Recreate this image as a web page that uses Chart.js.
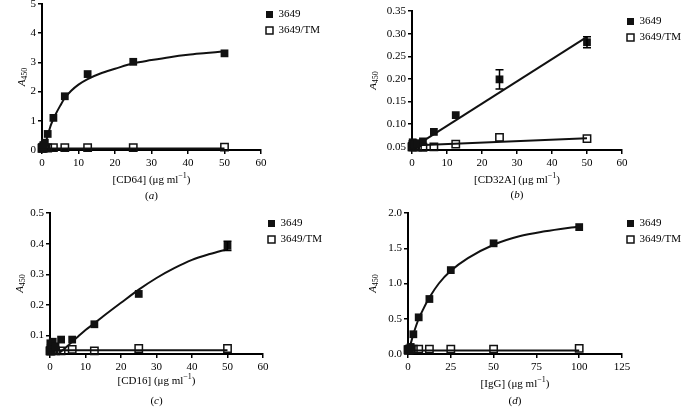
<!DOCTYPE html>
<html>
<head>
<meta charset="utf-8">
<script src="https://cdn.jsdelivr.net/npm/chart.js@4.4.1/dist/chart.umd.min.js"></script>
<style>
  html, body { margin: 0; padding: 0; background: #fff; width: 693px; height: 407px; overflow: hidden; }
  body { position: relative; }
  canvas { position: absolute; }
</style>
</head>
<body>
<canvas id="chartA"></canvas>
<canvas id="chartB"></canvas>
<canvas id="chartC"></canvas>
<canvas id="chartD"></canvas>
<script>
// ---- data ----
const seriesNames = ["3649", "3649/TM"];

// concentration series used in panels a-c (µg/ml)
const conc = [0, 0.1, 0.2, 0.39, 0.78, 1.56, 3.125, 6.25, 12.5, 25, 50];
// panel d (IgG)
const concIgG = [0, 0.39, 0.78, 1.56, 3.125, 6.25, 12.5, 25, 50, 100];

// (a) CD64
const cd64_wt = [0.06, 0.08, 0.12, 0.17, 0.25, 0.55, 1.1, 1.84, 2.6, 3.02, 3.31];
const cd64_tm = [0.06, 0.07, 0.08, 0.07, 0.08, 0.07, 0.08, 0.08, 0.08, 0.08, 0.1];
const cd64FitX = [1.0, 1.7, 2.5, 3.6, 5, 6.25, 8, 10, 12.5, 16, 20, 25, 30, 35, 40, 45, 50];
const cd64FitWt = [0.25, 0.56, 0.88, 1.19, 1.52, 1.78, 2.03, 2.24, 2.43, 2.62, 2.78, 2.97, 3.08, 3.18, 3.26, 3.32, 3.38];
const cd64FitTmX = [0, 50];
const cd64FitTm = [0.05, 0.05];

// (b) CD32A
const cd32_wt = [0.052, 0.056, 0.06, 0.058, 0.055, 0.058, 0.062, 0.083, 0.12, 0.199, 0.281];
const cd32_wtErr = [0, 0, 0, 0, 0, 0, 0, 0, 0, 0.021, 0.012];
const cd32_tm = [0.05, 0.05, 0.051, 0.05, 0.05, 0.05, 0.049, 0.05, 0.056, 0.071, 0.068];
const cd32FitX = [2.8, 50];
const cd32FitWt = [0.061, 0.293];
const cd32FitTmX = [0, 50];
const cd32FitTm = [0.053, 0.069];

// (c) CD16
const cd16_wt = [0.05, 0.075, 0.06, 0.07, 0.08, 0.065, 0.087, 0.087, 0.137, 0.236, 0.393];
const cd16_wtErr = [0, 0, 0, 0, 0, 0, 0, 0, 0, 0, 0.015];
const cd16_tm = [0.05, 0.05, 0.05, 0.05, 0.052, 0.05, 0.05, 0.055, 0.05, 0.058, 0.058];
const cd16FitX = [2.8, 5, 6.25, 8, 10, 12.5, 15, 20, 25, 30, 35, 40, 45, 50];
const cd16FitWt = [0.045, 0.067, 0.08, 0.098, 0.118, 0.14, 0.163, 0.207, 0.25, 0.288, 0.32, 0.347, 0.366, 0.382];
const cd16FitTmX = [0, 50];
const cd16FitTm = [0.052, 0.052];

// (d) IgG
const igg_wt = [0.05, 0.06, 0.08, 0.1, 0.28, 0.52, 0.78, 1.19, 1.57, 1.8];
const igg_tm = [0.06, 0.06, 0.06, 0.07, 0.07, 0.07, 0.07, 0.07, 0.07, 0.08];
const iggFitX = [0.5, 1.5, 3.125, 6.25, 9, 12.5, 18, 25, 35, 50, 65, 80, 100];
const iggFitWt = [0.06, 0.14, 0.28, 0.5, 0.64, 0.8, 1.0, 1.18, 1.36, 1.55, 1.67, 1.74, 1.81];
const iggFitTmX = [0, 100];
const iggFitTm = [0.05, 0.05];

// tick values
const xTicks60 = [0, 10, 20, 30, 40, 50, 60];
const xTicks125 = [0, 25, 50, 75, 100, 125];
const yTicksA = [0, 1, 2, 3, 4, 5];
const yTicksB = [0.05, 0.10, 0.15, 0.20, 0.25, 0.30, 0.35];
const yTicksC = [0.1, 0.2, 0.3, 0.4, 0.5];
const yTicksD = [0, 0.5, 1.0, 1.5, 2.0];

// axis titles
const xTitleA = "[CD64] (\u03bcg ml";
const xTitleB = "[CD32A] (\u03bcg ml";
const xTitleC = "[CD16] (\u03bcg ml";
const xTitleD = "[IgG] (\u03bcg ml";

// ---- drawing ----
const FONT = "'Liberation Serif', 'Times New Roman', serif";
const Y_AXIS_W = 42;
const X_AXIS_H = 53;
const PAD_TOP = 10;
const LEGEND_W = 60;
const PAD_RIGHT = 10;

function pts(xs, ys) {
  return xs.map((x, i) => ({ x: x, y: ys[i] }));
}

function drawRuns(ctx, runs, cx, cy) {
  let total = 0;
  runs.forEach(r => { ctx.font = r.font; r.w = ctx.measureText(r.text).width; total += r.w; });
  let x = cx - total / 2;
  runs.forEach(r => {
    ctx.font = r.font;
    ctx.fillText(r.text, x, cy + (r.dy || 0));
    x += r.w;
  });
}

const panelText = {
  id: "panelText",
  afterDraw(chart, args, opts) {
    const ctx = chart.ctx;
    const a = chart.chartArea;
    ctx.save();
    ctx.fillStyle = "#000";
    ctx.textBaseline = "middle";
    ctx.textAlign = "left";
    // x title with superscript -1
    drawRuns(ctx, [
      { text: opts.xTitle, font: "11px " + FONT },
      { text: "\u22121", font: "8px " + FONT, dy: -4 },
      { text: ")", font: "11px " + FONT }
    ], (a.left + a.right) / 2, a.bottom + opts.xTitleDy);
    // panel tag
    drawRuns(ctx, [
      { text: "(", font: "11px " + FONT },
      { text: opts.tag, font: "italic 11px " + FONT },
      { text: ")", font: "11px " + FONT }
    ], (a.left + a.right) / 2, a.bottom + opts.tagDy);
    // y title A450
    ctx.translate(a.left - opts.yTitleDx, (a.top + a.bottom) / 2);
    ctx.rotate(-Math.PI / 2);
    drawRuns(ctx, [
      { text: "A", font: "italic 11px " + FONT },
      { text: "450", font: "8px " + FONT, dy: 3 }
    ], 0, 0);
    ctx.restore();
  }
};

const errorBars = {
  id: "errorBars",
  afterDatasetsDraw(chart) {
    const ctx = chart.ctx;
    const xs = chart.scales.x, ys = chart.scales.y;
    chart.data.datasets.forEach(ds => {
      if (!ds.errorBars) return;
      ds.data.forEach((p, j) => {
        const e = ds.errorBars[j];
        if (!e) return;
        const px = xs.getPixelForValue(p.x);
        const top = ys.getPixelForValue(p.y + e);
        const bot = ys.getPixelForValue(p.y - e);
        ctx.save();
        ctx.strokeStyle = "#000";
        ctx.lineWidth = 1.5;
        ctx.beginPath();
        ctx.moveTo(px, top); ctx.lineTo(px, bot);
        ctx.moveTo(px - 4, top); ctx.lineTo(px + 4, top);
        ctx.moveTo(px - 4, bot); ctx.lineTo(px + 4, bot);
        ctx.stroke();
        ctx.restore();
      });
    });
  }
};

function makePanel(id, p) {
  const canvas = document.getElementById(id);
  const left = p.L - Y_AXIS_W;
  const top = p.T - PAD_TOP;
  const w = (p.R - p.L) + Y_AXIS_W + LEGEND_W + PAD_RIGHT;
  const h = (p.B - p.T) + PAD_TOP + X_AXIS_H;
  canvas.width = w; canvas.height = h;
  canvas.style.left = left + "px"; canvas.style.top = top + "px";
  canvas.style.width = w + "px"; canvas.style.height = h + "px";

  const axisCommon = {
    border: { display: true, color: "#000", width: 2 },
    grid: { display: true, drawOnChartArea: false, drawTicks: true, tickLength: 4, color: "#000", lineWidth: 1.5 },
  };

  return new Chart(canvas.getContext("2d"), {
    type: "scatter",
    data: {
      datasets: [
        {
          label: seriesNames[0],
          data: pts(p.x, p.wt),
          errorBars: p.wtErr || null,
          pointStyle: "rect",
          pointRadius: 5.5,
          pointBackgroundColor: "#111",
          pointBorderColor: "#111",
          pointBorderWidth: 0,
          showLine: false,
          clip: false,
          order: 0,
        },
        {
          label: seriesNames[1],
          data: pts(p.x, p.tm),
          pointStyle: "rect",
          pointRadius: 5.2,
          pointBackgroundColor: "rgba(255,255,255,0)",
          pointBorderColor: "#111",
          pointBorderWidth: 1.5,
          showLine: false,
          clip: false,
          order: 0,
        },
        {
          label: "",
          data: pts(p.fitX, p.fitWt),
          showLine: true,
          pointRadius: 0,
          borderColor: "#111",
          borderWidth: 2,
          cubicInterpolationMode: "monotone",
          order: 1,
        },
        {
          label: "",
          data: pts(p.fitTmX, p.fitTm),
          showLine: true,
          pointRadius: 0,
          borderColor: "#111",
          borderWidth: 2,
          order: 1,
        },
      ],
    },
    options: {
      responsive: false,
      animation: false,
      devicePixelRatio: 1,
      layout: { padding: { left: 0, top: PAD_TOP, right: PAD_RIGHT, bottom: 0 } },
      plugins: {
        legend: {
          display: true,
          position: "right",
          align: "start",
          maxWidth: LEGEND_W,
          labels: {
            usePointStyle: true,
            boxWidth: 7,
            boxHeight: 7,
            padding: 5,
            color: "#000",
            font: { family: FONT, size: 11 },
            filter: (item) => item.text !== "",
          },
        },
        tooltip: { enabled: false },
        panelText: { xTitle: p.xTitle, tag: p.tag, xTitleDy: p.xTitleDy, tagDy: p.tagDy, yTitleDx: p.yTitleDx },
      },
      scales: {
        x: {
          ...axisCommon,
          type: "linear",
          min: p.xMin,
          max: p.xMax,
          afterBuildTicks: (s) => { s.ticks = p.xTicks.map(v => ({ value: v })); },
          afterFit: (s) => { s.height = X_AXIS_H; },
          ticks: { color: "#000", padding: 3, font: { family: FONT, size: 11 }, maxRotation: 0, autoSkip: false,
                   callback: (v) => String(v) },
        },
        y: {
          ...axisCommon,
          type: "linear",
          min: p.yMin,
          max: p.yMax,
          afterBuildTicks: (s) => { s.ticks = p.yTicks.map(v => ({ value: v })); },
          afterFit: (s) => { s.width = Y_AXIS_W; },
          ticks: { color: "#000", padding: 2, font: { family: FONT, size: 11 }, autoSkip: false,
                   callback: (v) => Number(v).toFixed(p.yDec) },
        },
      },
    },
    plugins: [panelText, errorBars],
  });
}

makePanel("chartA", {
  L: 42, T: 4, R: 261, B: 150,
  xMin: 0, xMax: 60, xTicks: xTicks60,
  yMin: 0, yMax: 5, yTicks: yTicksA, yDec: 0,
  x: conc, wt: cd64_wt, tm: cd64_tm,
  fitX: cd64FitX, fitWt: cd64FitWt, fitTmX: cd64FitTmX, fitTm: cd64FitTm,
  xTitle: xTitleA, tag: "a", xTitleDy: 30, tagDy: 46, yTitleDx: 20,
});

makePanel("chartB", {
  L: 412, T: 11, R: 622, B: 150,
  xMin: 0, xMax: 60, xTicks: xTicks60,
  yMin: 0.043, yMax: 0.35, yTicks: yTicksB, yDec: 2,
  x: conc, wt: cd32_wt, wtErr: cd32_wtErr, tm: cd32_tm,
  fitX: cd32FitX, fitWt: cd32FitWt, fitTmX: cd32FitTmX, fitTm: cd32FitTm,
  xTitle: xTitleB, tag: "b", xTitleDy: 30, tagDy: 45, yTitleDx: 39,
});

makePanel("chartC", {
  L: 50, T: 213, R: 263, B: 354,
  xMin: 0, xMax: 60, xTicks: xTicks60,
  yMin: 0.04, yMax: 0.5, yTicks: yTicksC, yDec: 1,
  x: conc, wt: cd16_wt, wtErr: cd16_wtErr, tm: cd16_tm,
  fitX: cd16FitX, fitWt: cd16FitWt, fitTmX: cd16FitTmX, fitTm: cd16FitTm,
  xTitle: xTitleC, tag: "c", xTitleDy: 27, tagDy: 47, yTitleDx: 30,
});

makePanel("chartD", {
  L: 408, T: 213, R: 622, B: 354,
  xMin: 0, xMax: 125, xTicks: xTicks125,
  yMin: 0, yMax: 2.0, yTicks: yTicksD, yDec: 1,
  x: concIgG, wt: igg_wt, tm: igg_tm,
  fitX: iggFitX, fitWt: iggFitWt, fitTmX: iggFitTmX, fitTm: iggFitTm,
  xTitle: xTitleD, tag: "d", xTitleDy: 30, tagDy: 47, yTitleDx: 35,
});
</script>
</body>
</html>
